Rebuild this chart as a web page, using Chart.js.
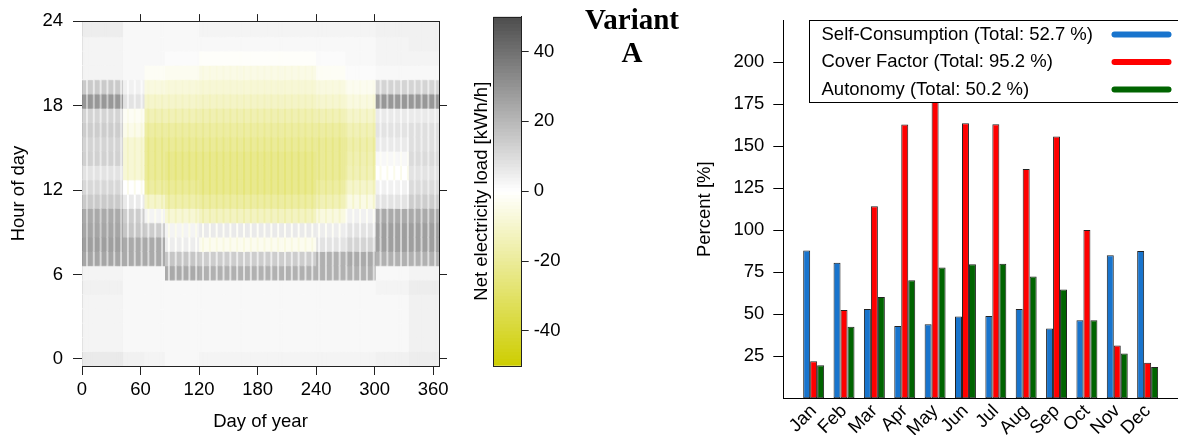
<!DOCTYPE html>
<html lang="en">
<head>
<meta charset="UTF-8" />
<title>Variant A</title>
<script src="https://cdn.jsdelivr.net/npm/chart.js"></script>
<style>
  body {
    margin: 0;
    width: 1178px;
    height: 435px;
    overflow: hidden;
    position: relative;
    background: #fff;
  }
  canvas { position: absolute; top: 0; }
  #heat { left: 0; }
  #cbar { left: 460px; }
  #pct { left: 690px; }
  .title {
    position: absolute;
    left: 572px;
    top: 3px;
    width: 120px;
    text-align: center;
    font: bold 29px/33px "Liberation Serif", "Times New Roman", serif;
    color: #000;
  }
</style>
</head>
<body>
  <canvas id="heat" width="460" height="435"></canvas>
  <canvas id="cbar" width="120" height="435"></canvas>
  <canvas id="pct" width="488" height="435"></canvas>
  <div class="title">Variant<br>A</div>

<script>
// ---------- heat map: net electricity load [kWh/h] ----------
const dayTicks = [0, 60, 120, 180, 240, 300, 360];
const dayTicksTop = [60, 120, 180, 240, 300];
const hourTicks = [0, 6, 12, 18, 24];
const hourTicksRight = [0, 6, 12, 18];
const colorbarTicks = [-40, -20, 0, 20, 40];

// first day (day of year) of each period with a similar daily profile
const periodStart = [1, 43, 65, 86, 121, 241, 271, 302, 336];
const firstWeekday = 2; // 1 January is a Tuesday (0 = Sunday)

// hour 0 .. 23, working days
const weekdayLoad = [
  [6, 3, 3, 3, 3, 4, 3, 25, 27, 25, 24, 15, 11, 8, 13, 12, 14, 12, 29, 15, 3, 3, 3, 5],
  [4, 2, 2, 2, 2, 2, 2, 24, 24, 16, 14, 6, 0, -8, -8, -8, -4, -2, 8, 4, 2, 2, 2, 2],
  [3, 2, 2, 2, 2, 2, 2, 24, 24, 14, 3, -10, -18, -20, -20, -20, -18, -14, -10, -6, -2, 2, 2, 2],
  [2, 2, 2, 2, 2, 2, 24, 16, 5, 3, -8, -16, -20, -22, -22, -20, -18, -14, -10, -7, -3, 1, 2, 2],
  [3, 2, 2, 2, 2, 2, 22, 14, -3, 6, -12, -18, -22, -22, -22, -20, -18, -15, -11, -8, -5, -1, 2, 3],
  [3, 2, 2, 2, 2, 2, 22, 22, 8, 5, -6, -14, -18, -20, -20, -20, -18, -14, -9, -6, -2, 1, 2, 3],
  [3, 2, 2, 2, 2, 2, 22, 24, 12, 8, 4, -5, -10, -14, -15, -16, -14, -10, -6, -3, 1, 2, 2, 3],
  [4, 2, 2, 2, 2, 3, 2, 22, 27, 27, 24, 8, 4, 0, 2, 6, 8, 6, 29, 12, 2, 3, 3, 4],
  [5, 4, 4, 4, 4, 5, 3, 22, 27, 27, 24, 14, 10, 8, 10, 9, 9, 6, 29, 12, 2, 3, 4, 4]
];
// hour 0 .. 23, weekends
const weekendLoad = [
  [6, 3, 3, 3, 3, 4, 3, 11, 14, 14, 13, 9, 6, 4, 6, 6, 7, 5, 15, 6, 3, 3, 3, 5],
  [4, 2, 2, 2, 2, 2, 2, 10, 11, 6, 4, 0, -4, -11, -11, -11, -7, -4, 3, 1, 2, 2, 2, 2],
  [3, 2, 2, 2, 2, 2, 2, 10, 10, 5, -3, -14, -22, -24, -24, -24, -21, -17, -12, -7, -2, 2, 2, 2],
  [2, 2, 2, 2, 2, 2, 9, 6, -1, -4, -12, -20, -24, -26, -26, -24, -21, -17, -12, -8, -3, 1, 2, 2],
  [3, 2, 2, 2, 2, 2, 8, 5, -6, -2, -16, -22, -26, -26, -26, -24, -21, -18, -13, -9, -6, -1, 2, 3],
  [3, 2, 2, 2, 2, 2, 9, 9, 2, -2, -10, -18, -22, -24, -24, -24, -21, -17, -11, -7, -2, 1, 2, 3],
  [3, 2, 2, 2, 2, 2, 9, 10, 5, 2, -2, -10, -14, -18, -19, -20, -17, -13, -8, -4, 1, 2, 2, 3],
  [4, 2, 2, 2, 2, 3, 2, 9, 12, 12, 11, 3, 0, -4, -2, 2, 3, 2, 14, 5, 2, 3, 3, 4],
  [5, 4, 4, 4, 4, 5, 3, 9, 12, 12, 11, 7, 5, 4, 5, 4, 4, 3, 14, 5, 2, 3, 4, 4]
];

// ---------- monthly indicators [%] ----------
const months = ['Jan', 'Feb', 'Mar', 'Apr', 'May', 'Jun', 'Jul', 'Aug', 'Sep', 'Oct', 'Nov', 'Dec'];
const selfConsumption = [88.0, 80.7, 53.1, 43.0, 44.0, 48.7, 49.0, 53.1, 41.5, 46.4, 85.1, 87.7];
const coverFactor = [22.1, 52.5, 114.2, 162.9, 176.3, 163.7, 163.1, 136.4, 155.8, 100.1, 31.4, 21.1];
const autonomy = [19.6, 42.5, 60.3, 70.2, 77.8, 79.7, 80.1, 72.4, 64.8, 46.4, 26.7, 18.6];
const seriesNames = ['Self-Consumption', 'Cover Factor', 'Autonomy'];
const seriesTotals = [52.7, 95.2, 50.2];
const seriesColors = ['#1874CD', '#FF0000', '#006400'];
const pctTicks = [25, 50, 75, 100, 125, 150, 175, 200];

Chart.defaults.font.family = '"Liberation Sans", Arial, sans-serif';
Chart.defaults.font.size = 18.5;
Chart.defaults.color = '#000';
Chart.defaults.animation = false;
Chart.defaults.events = [];
Chart.defaults.plugins.legend.display = false;
Chart.defaults.plugins.tooltip.enabled = false;

// yellow3 -> white -> grey30
function netColor(v) {
  const t = Math.max(-1, Math.min(1, v / 50));
  if (t >= 0) {
    const g = Math.round(255 - t * (255 - 77));
    return `rgb(${g},${g},${g})`;
  }
  const a = -t;
  const rg = Math.round(255 - a * (255 - 205));
  const b = Math.round(255 - a * 255);
  return `rgb(${rg},${rg},${b})`;
}

const rowSpan = 24.4 / 24;
const cells = [];
const cellColors = [];
for (let d = 1; d <= 365; d++) {
  let p = 0;
  while (p + 1 < periodStart.length && d >= periodStart[p + 1]) p++;
  const dow = (firstWeekday + d - 1) % 7;
  const profile = (dow === 0 || dow === 6) ? weekendLoad[p] : weekdayLoad[p];
  for (let h = 0; h < 24; h++) {
    const lo = -0.5 + h * rowSpan;
    cells.push({ x: d, y: [lo, lo + rowSpan] });
    cellColors.push(netColor(profile[h]));
  }
}

const axisColor = '#222';
const setTicks = list => scale => { scale.ticks = list.map(v => ({ value: v })); };

new Chart(document.getElementById('heat'), {
  type: 'bar',
  data: {
    datasets: [{
      data: cells,
      backgroundColor: cellColors,
      borderWidth: 0,
      barPercentage: 1,
      categoryPercentage: 1,
      inflateAmount: 0.4
    }]
  },
  options: {
    responsive: false,
    layout: { padding: 0 },
    scales: {
      x: {
        type: 'linear', position: 'bottom', min: 0, max: 366, offset: false,
        afterBuildTicks: setTicks(dayTicks),
        afterFit: s => { s.height = 69; },
        ticks: { padding: 4, maxRotation: 0 },
        grid: { drawOnChartArea: false, offset: false, tickLength: 9, tickColor: axisColor },
        border: { display: true, color: axisColor },
        title: { display: true, text: 'Day of year', padding: { top: 0, bottom: 2 } }
      },
      x2: {
        type: 'linear', position: 'top', min: 0, max: 366, offset: false,
        afterBuildTicks: setTicks(dayTicksTop),
        afterFit: s => { s.height = 16; },
        ticks: { display: false },
        grid: { drawOnChartArea: false, offset: false, tickLength: 7, tickColor: axisColor },
        border: { display: true, color: axisColor }
      },
      y: {
        type: 'linear', position: 'left', min: -0.5, max: 24,
        afterBuildTicks: setTicks(hourTicks),
        afterFit: s => { s.width = 82; },
        ticks: { padding: 10 },
        grid: { drawOnChartArea: false, tickLength: 9, tickColor: axisColor },
        border: { display: true, color: axisColor },
        title: { display: true, text: 'Hour of day', padding: { top: 8, bottom: 0 } }
      },
      y2: {
        type: 'linear', position: 'right', min: -0.5, max: 24,
        afterBuildTicks: setTicks(hourTicksRight),
        afterFit: s => { s.width = 21; },
        ticks: { display: false },
        grid: { drawOnChartArea: false, tickLength: 8, tickColor: axisColor },
        border: { display: true, color: axisColor }
      }
    }
  }
});

// ---------- colour key ----------
const levels = [];
for (let v = -50; v < 50; v++) levels.push(v);

const framePlugin = {
  id: 'frame',
  afterDatasetsDraw(chart) {
    const { ctx, chartArea: a } = chart;
    ctx.save();
    ctx.strokeStyle = axisColor;
    ctx.lineWidth = 1;
    ctx.strokeRect(Math.round(a.left) + 0.5, Math.round(a.top) + 0.5,
      Math.round(a.right - a.left), Math.round(a.bottom - a.top));
    ctx.restore();
  }
};

new Chart(document.getElementById('cbar'), {
  type: 'bar',
  data: {
    labels: ['key'],
    datasets: [{
      data: levels.map(v => ({ x: 'key', y: [v, v + 1] })),
      backgroundColor: levels.map(v => netColor(v + 0.5)),
      borderWidth: 0,
      barPercentage: 1,
      categoryPercentage: 1,
      inflateAmount: 0.4
    }]
  },
  options: {
    responsive: false,
    layout: { padding: { top: 16.7, bottom: 69.3, left: 0, right: 0 } },
    scales: {
      x: { display: false },
      yl: {
        type: 'linear', position: 'left', min: -50, max: 50,
        afterFit: s => { s.width = 33.3; },
        ticks: { display: false },
        grid: { display: false },
        border: { display: false },
        title: { display: true, text: 'Net electricity load [kWh/h]', padding: { top: 10.6, bottom: 0 } }
      },
      y: {
        type: 'linear', position: 'right', min: -50, max: 50,
        afterBuildTicks: setTicks(colorbarTicks),
        afterFit: s => { s.width = 58.3; },
        ticks: { padding: 5 },
        grid: { drawOnChartArea: false, tickLength: 7, tickColor: axisColor },
        border: { display: true, color: axisColor }
      }
    }
  },
  plugins: [framePlugin]
});

// ---------- monthly bar chart ----------
const seriesValues = [selfConsumption, coverFactor, autonomy];

const boxLegend = {
  id: 'boxLegend',
  afterDraw(chart) {
    const { ctx, chartArea: a } = chart;
    ctx.save();
    ctx.strokeStyle = '#000';
    ctx.lineWidth = 1;
    const left = Math.round(a.left + 26) + 0.5;
    const top = Math.round(a.top) + 0.5;
    ctx.fillStyle = '#fff';
    ctx.fillRect(left, top, 500, 82);
    ctx.strokeRect(left, top, 500, 82);
    ctx.font = '18.5px "Liberation Sans", Arial, sans-serif';
    ctx.textBaseline = 'middle';
    ctx.textAlign = 'left';
    chart.data.datasets.forEach((ds, i) => {
      const y = a.top + 14.5 + i * 27.5;
      ctx.fillStyle = '#000';
      ctx.fillText(ds.label, left + 12, y);
      ctx.strokeStyle = ds.backgroundColor;
      ctx.lineWidth = 6;
      ctx.lineCap = 'round';
      ctx.beginPath();
      ctx.moveTo(left + 305, y);
      ctx.lineTo(left + 359, y);
      ctx.stroke();
    });
    ctx.restore();
  }
};

new Chart(document.getElementById('pct'), {
  type: 'bar',
  data: {
    datasets: seriesValues.map((vals, i) => ({
      label: `${seriesNames[i]} (Total: ${seriesTotals[i].toFixed(1)} %)`,
      data: vals.map((v, m) => ({ x: m + 1, y: v })),
      backgroundColor: seriesColors[i],
      borderColor: '#222',
      borderWidth: 1,
      borderSkipped: false,
      barPercentage: 1,
      categoryPercentage: 0.69
    }))
  },
  options: {
    responsive: false,
    layout: { padding: { top: 10.7, left: 0, right: 0, bottom: 0 } },
    scales: {
      x: {
        type: 'linear', min: 0, max: 13, offset: false,
        afterBuildTicks: setTicks(months.map((m, i) => i + 1)),
        afterFit: s => { s.height = 36.7; },
        ticks: {
          callback: v => months[v - 1],
          minRotation: 45, maxRotation: 45, autoSkip: false, padding: 2
        },
        grid: { display: false, drawTicks: false, offset: false },
        border: { display: true, color: '#000' }
      },
      y: {
        min: 0, max: 225,
        afterBuildTicks: setTicks(pctTicks),
        afterFit: s => { s.width = 93.3; },
        ticks: { padding: 9 },
        grid: { drawOnChartArea: false, tickLength: 10, tickColor: '#000' },
        border: { display: true, color: '#000' },
        title: { display: true, text: 'Percent [%]', padding: { top: 3.9, bottom: 0 } }
      }
    }
  },
  plugins: [boxLegend]
});
</script>
</body>
</html>
